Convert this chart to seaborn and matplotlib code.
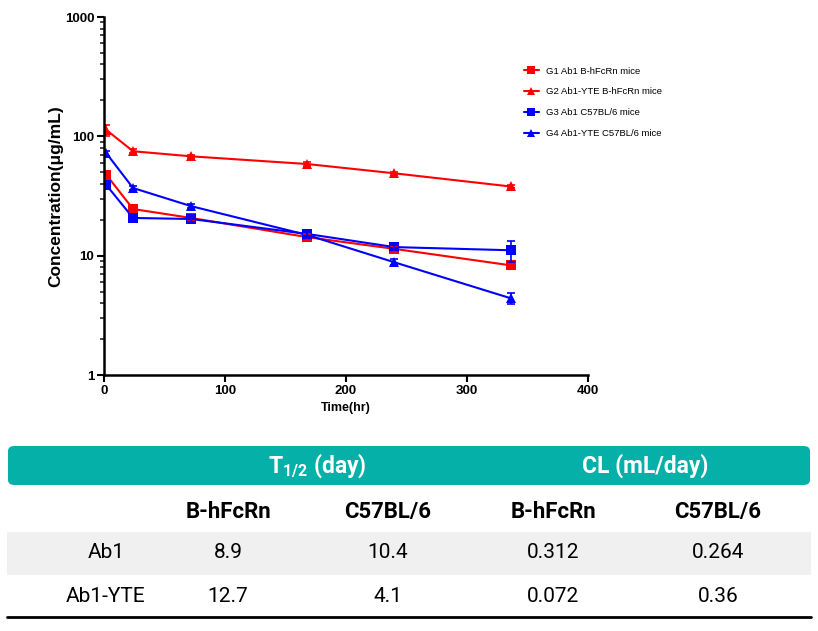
import numpy as np
import pandas as pd
import matplotlib.pyplot as plt
from matplotlib.patches import FancyBboxPatch, Rectangle
from matplotlib.lines import Line2D
import seaborn as sns

sns.set_style("ticks")
plt.rcParams["font.family"] = ["Liberation Sans", "DejaVu Sans"]
plt.rcParams["text.color"] = "black"
plt.rcParams["axes.labelcolor"] = "black"

# PK curves (mean +/- SD)
time_hr = [2, 24, 72, 168, 240, 336]
groups = ["G1 Ab1 B-hFcRn mice", "G2 Ab1-YTE B-hFcRn mice",
          "G3 Ab1 C57BL/6 mice", "G4 Ab1-YTE C57BL/6 mice"]
g1_mean = [47.5, 24.6, 20.7, 14.3, 11.4, 8.3]
g2_mean = [113, 75, 68, 58.6, 49, 38]
g3_mean = [39, 20.7, 20.3, 15.2, 11.8, 11.1]
g4_mean = [72, 36.9, 26, 14.9, 8.8, 4.4]
g1_sd = [3, 1.5, 1, 0.8, 0.6, 0.6]
g2_sd = [12, 3, 2, 2, 1.5, 1.2]
g3_sd = [2, 1, 1, 0.8, 0.6, 2.2]
g4_sd = [3, 1.5, 1, 0.8, 0.5, 0.5]

# summary table
col_groups = ["T$_{\\mathregular{1/2}}$ (day)", "CL (mL/day)"]
strains = ["B-hFcRn", "C57BL/6", "B-hFcRn", "C57BL/6"]
row_names = ["Ab1", "Ab1-YTE"]
ab1_vals = ["8.9", "10.4", "0.312", "0.264"]
yte_vals = ["12.7", "4.1", "0.072", "0.36"]

means = [g1_mean, g2_mean, g3_mean, g4_mean]
sds = [g1_sd, g2_sd, g3_sd, g4_sd]
colors = ["#ff0000", "#ff0000", "#0000ff", "#0000ff"]
markers = ["s", "^", "s", "^"]

df = pd.DataFrame({
    "time": np.tile(time_hr, len(groups)),
    "conc": np.concatenate(means),
    "group": np.repeat(groups, len(time_hr)),
})

W, H = 818, 631
fig = plt.figure(figsize=(W / 100, H / 100), dpi=100)
ax = fig.add_axes([104 / W, 1 - 375 / H, 484 / W, 358 / H])

sns.lineplot(data=df, x="time", y="conc", hue="group", style="group",
             palette=dict(zip(groups, colors)), markers=dict(zip(groups, markers)),
             dashes=False, markersize=7, markeredgewidth=0, linewidth=1.5,
             ax=ax, legend=False)
for m, s, c in zip(means, sds, colors):
    ax.errorbar(time_hr, m, yerr=s, fmt="none", ecolor=c, elinewidth=1.2,
                capsize=3, capthick=1.2)

ax.set_yscale("log")
ax.set_ylim(1, 1000)
ax.set_xlim(0, 400)
ax.set_xticks([0, 100, 200, 300, 400])
ax.set_yticks([1, 10, 100, 1000])
ax.set_yticklabels(["1", "10", "100", "1000"])
ax.tick_params(axis="both", which="major", length=5, width=1.5, labelsize=9.5,
               colors="black", pad=2)
ax.tick_params(axis="y", which="minor", length=3, width=1.2)
for lab in ax.get_xticklabels() + ax.get_yticklabels():
    lab.set_fontweight("bold")
for side in ["top", "right"]:
    ax.spines[side].set_visible(False)
for side in ["left", "bottom"]:
    ax.spines[side].set_linewidth(1.8)
    ax.spines[side].set_color("black")
ax.set_xlabel("Time(hr)", fontsize=9, fontweight="bold", labelpad=4)
ax.set_ylabel("Concentration(μg/mL)", fontsize=12.5, fontweight="bold", labelpad=1)

handles = [Line2D([0], [0], color=c, marker=mk, markersize=6, markeredgewidth=0, lw=1.5)
           for c, mk in zip(colors, markers)]
fig.legend(handles, groups, loc="upper left", bbox_to_anchor=(517 / W, 1 - 60 / H),
           frameon=False, fontsize=6.8, handlelength=1.6, labelspacing=1.25,
           handletextpad=0.8, borderpad=0.2)

# table
tf = ["Roboto", "DejaVu Sans"]
header = FancyBboxPatch((8 / W, 1 - 485 / H), 802 / W, 39 / H,
                        boxstyle="round,pad=0,rounding_size=0.008",
                        transform=fig.transFigure, facecolor="#05b0a8", edgecolor="none")
fig.patches.append(header)
fig.patches.append(Rectangle((7 / W, 1 - 575 / H), 804 / W, 43 / H,
                             transform=fig.transFigure, facecolor="#f0f0f0", edgecolor="none"))
fig.lines.append(Line2D([7 / W, 811 / W], [1 - 617 / H, 1 - 617 / H],
                        transform=fig.transFigure, color="black", lw=2))

for lbl, cx in zip(col_groups, [317, 645]):
    fig.text(cx / W, 1 - 466 / H, lbl, ha="center", va="center", color="white",
             fontsize=16.5, fontweight="bold", family=tf)
col_x = [228, 388, 553, 718]
for lbl, cx in zip(strains, col_x):
    fig.text(cx / W, 1 - 512 / H, lbl, ha="center", va="center", color="black",
             fontsize=16, fontweight="bold", family=tf)
for name, vals, cy in zip(row_names, [ab1_vals, yte_vals], [553, 597]):
    fig.text(106 / W, 1 - cy / H, name, ha="center", va="center", fontsize=15,
             family=tf, color="black")
    for v, cx in zip(vals, col_x):
        fig.text(cx / W, 1 - cy / H, v, ha="center", va="center", fontsize=15,
                 family=tf, color="black")

fig.savefig("out.png", dpi=100, facecolor="white")
